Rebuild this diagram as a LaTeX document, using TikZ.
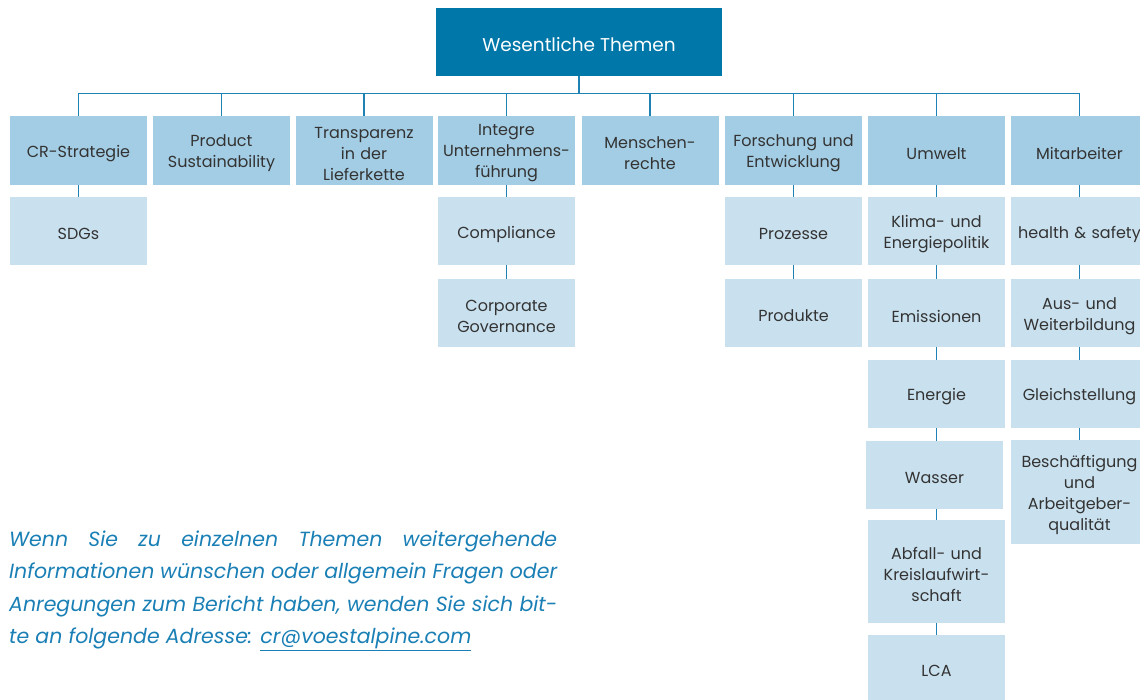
\documentclass[tikz,border=0pt]{standalone}
\usepackage{fontspec}
\setmainfont{Poppins}
\definecolor{topblue}{HTML}{0077A9}
\definecolor{lonebl}{HTML}{A3CDE4}
\definecolor{ltwobl}{HTML}{C9E1EF}
\definecolor{linebl}{HTML}{1F82B4}
\definecolor{txtgray}{HTML}{333333}
\definecolor{parabl}{HTML}{1A7FB5}
\begin{document}
\begin{tikzpicture}[x=1pt,y=-1pt,
  txt/.style={inner sep=0pt, text width=135pt, align=center, text=txtgray, font=\fontsize{16}{21}\selectfont, yshift=-3pt},
  box/.style={inner sep=0pt, minimum width=137pt, minimum height=68pt, label={[txt]center:{#1}}},
  lone/.style={box={#1}, fill=lonebl, minimum height=69pt},
  ltwo/.style={box={#1}, fill=ltwobl},
  conn/.style={draw=linebl, line width=1.2pt},
  para/.style={anchor=base west, inner sep=0pt, text=parabl, font=\fontsize{20.5}{24}\selectfont\itshape}]
\useasboundingbox (0,0) rectangle (1140,699);
\clip (0,0) rectangle (1140,699);
% top
\node[fill=topblue, minimum width=286pt, minimum height=68pt, inner sep=0pt, label={[inner sep=0pt, text=white, font=\fontsize{18.5}{22}\selectfont, yshift=-2.5pt]center:Wesentliche Themen}] (top) at (579,42) {};
% level 1
\node[lone={CR-Strategie}] (a1) at (78.5,150.5) {};
\node[lone={Product\\Sustainability}] (a2) at (221.5,150.5) {};
\node[lone={Transparenz\\in der\\Lieferkette}] (a3) at (364,150.5) {};
\node[lone={Integre\\Unternehmens-\\führung}] (a4) at (506.5,150.5) {};
\node[lone={Menschen-\\rechte}] (a5) at (650,150.5) {};
\node[lone={Forschung und\\Entwicklung}] (a6) at (793.5,150.5) {};
\node[lone={Umwelt}] (a7) at (936.5,150.5) {};
\node[lone={Mitarbeiter}] (a8) at (1079.5,150.5) {};
% column 1
\node[ltwo={SDGs}] (b1) at (78.5,231) {};
% column 4
\node[ltwo={Compliance}] (b4) at (506.5,231) {};
\node[ltwo={Corporate\\Governance}] (c4) at (506.5,313) {};
% column 6
\node[ltwo={Prozesse}] (b6) at (793.5,231) {};
\node[ltwo={Produkte}] (c6) at (793.5,313) {};
% column 7
\node[ltwo={Klima- und\\Energiepolitik}] (b7) at (936.5,231) {};
\node[ltwo={Emissionen}] (c7) at (936.5,313) {};
\node[ltwo={Energie}] (d7) at (936.5,394) {};
\node[ltwo={Wasser}] (e7) at (934.5,475) {};
\node[ltwo={Abfall- und\\Kreislaufwirt-\\schaft}, minimum height=103pt] (f7) at (936.5,571.5) {};
\node[ltwo={LCA}, minimum height=65pt] (g7) at (936.5,667.5) {};
% column 8
\node[ltwo={health \& safety}] (b8) at (1079.5,231) {};
\node[ltwo={Aus- und\\Weiterbildung}] (c8) at (1079.5,313) {};
\node[ltwo={Gleichstellung}] (d8) at (1079.5,394) {};
\node[ltwo={Beschäftigung\\und\\Arbeitgeber-\\qualität}, minimum height=104pt] (e8) at (1079.5,492) {};
% connectors top -> level 1
\foreach \n in {a1,a2,a3,a4,a5,a6,a7,a8}
  \draw[conn] (top.south) -- ++(0,17) -| (\n.north);
% vertical connectors
\draw[conn] (a1.south) -- (b1.north);
\draw[conn] (a4.south) -- (b4.north);
\draw[conn] (b4.south) -- (c4.north);
\draw[conn] (a6.south) -- (b6.north);
\draw[conn] (b6.south) -- (c6.north);
\draw[conn] (a7.south) -- (b7.north);
\draw[conn] (b7.south) -- (c7.north);
\draw[conn] (c7.south) -- (d7.north);
\draw[conn] (d7.south) -- (d7.south |- e7.north);
\draw[conn] (f7.north) -- (f7.north |- e7.south);
\draw[conn] (f7.south) -- (g7.north);
\draw[conn] (a8.south) -- (b8.north);
\draw[conn] (b8.south) -- (c8.north);
\draw[conn] (c8.south) -- (d8.north);
\draw[conn] (d8.south) -- (e8.north);
% paragraph
\node[para] (p1) at (9,546) {\makebox[548pt][s]{Wenn Sie zu einzelnen Themen weitergehende}};
\node[para] (p2) at (9,578.5) {\makebox[548pt][s]{Informationen wünschen oder allgemein Fragen oder}};
\node[para] (p3) at (9,611) {\makebox[548pt][s]{Anregungen zum Bericht haben, wenden Sie sich bit-}};
\node[para] (p4) at (9,643.5) {te an folgende Adresse: \underline{cr@voestalpine.com}};
\end{tikzpicture}
\end{document}
